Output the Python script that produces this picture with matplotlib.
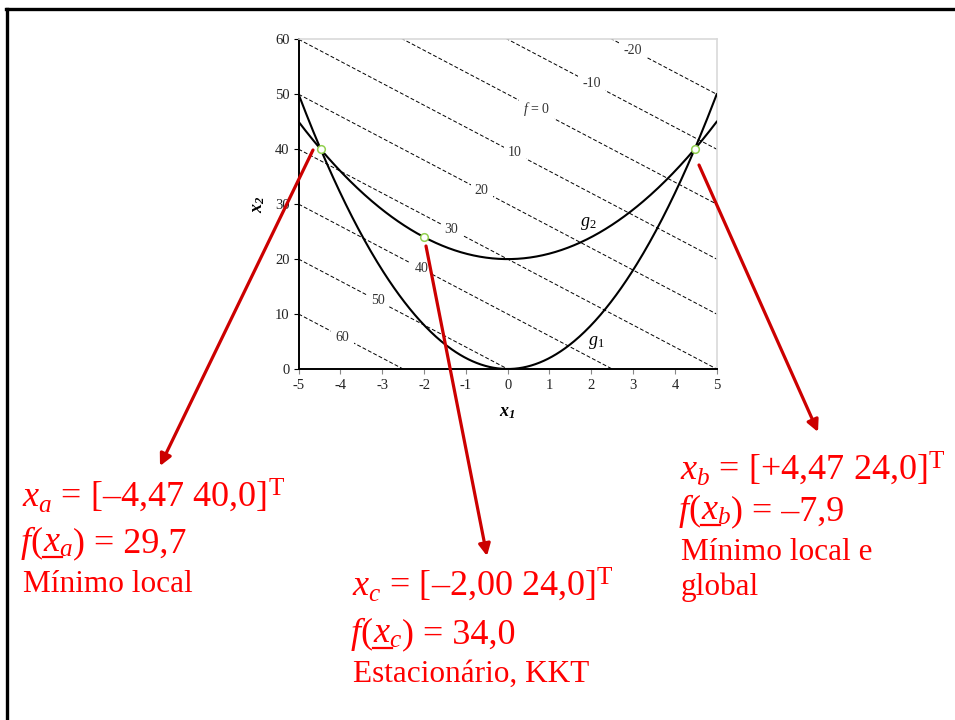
import numpy as np
import matplotlib

matplotlib.use("Agg")
import matplotlib.pyplot as plt
from matplotlib.lines import Line2D
from matplotlib.patches import FancyArrowPatch

plt.rcParams["font.family"] = ["Liberation Serif", "DejaVu Serif"]
plt.rcParams["mathtext.fontset"] = "custom"
plt.rcParams["mathtext.rm"] = "Liberation Serif"
plt.rcParams["mathtext.it"] = "Liberation Serif:italic"
plt.rcParams["mathtext.bf"] = "Liberation Serif:bold:italic"
plt.rcParams["axes.unicode_minus"] = False

# objective f(x) = 50 - 4*x1 - x2, constraints g1: x2 >= 2*x1^2, g2: x2 <= x1^2 + 20
f_levels = [60, 50, 40, 30, 20, 10, 0, -10, -20]
f_label_x1 = [-3.95, -3.11, -2.06, -1.34, -0.62, 0.17, 0.69, 2.01, 2.99]
f_label_text = ["60", "50", "40", "30", "20", "10", "$f$ = 0", "-10", "-20"]

pt_x1 = [-4.47, 4.47, -2.00]
pt_x2 = [40.0, 40.0, 24.0]

x_ticks = [-5, -4, -3, -2, -1, 0, 1, 2, 3, 4, 5]
y_ticks = [0, 10, 20, 30, 40, 50, 60]

W, H = 955, 720
fig = plt.figure(figsize=(W / 100, H / 100), dpi=100)
fig.patch.set_facecolor("white")
ax = fig.add_axes([298.6 / W, 1 - 369 / H, 418.1 / W, 329.7 / H])

x1 = np.linspace(-5, 5, 400)

# contour lines of f (straight lines)
for lev in f_levels:
    ax.plot(x1, 50 - lev - 4 * x1, color="black", lw=0.7,
            dashes=(4, 2.2), zorder=1)
for lx, txt, lev in zip(f_label_x1, f_label_text, f_levels):
    ax.text(lx, 50 - lev - 4 * lx, txt, ha="center", va="center",
            fontsize=10, color="#333333", zorder=2,
            bbox=dict(boxstyle="square,pad=0.3", fc="white", ec="none"))

# constraint curves
ax.plot(x1, 2 * x1 ** 2, color="black", lw=1.5, zorder=3)
ax.plot(x1, x1 ** 2 + 20, color="black", lw=1.5, zorder=3)
ax.text(2.13, 4.9, "$g_1$", fontsize=13, ha="center", va="center")
ax.text(1.92, 26.4, "$g_2$", fontsize=13, ha="center", va="center")

ax.plot(pt_x1, pt_x2, "o", ms=5.5, mfc="white", mec="#92D050",
        mew=1.1, zorder=5, clip_on=False)

ax.set_xlim(-5, 5)
ax.set_ylim(0, 60)
ax.set_xticks(x_ticks)
ax.set_yticks(y_ticks)
ax.tick_params(axis="x", colors="#888888", labelcolor="#222222",
               length=3.5, width=0.8, labelsize=10.5, pad=4)
ax.tick_params(axis="y", colors="black", labelcolor="#222222",
               length=3.5, width=0.8, labelsize=10.5, pad=3)
for side in ("left", "bottom"):
    ax.spines[side].set_linewidth(1.4)
    ax.spines[side].set_color("black")
for side in ("top", "right"):
    ax.spines[side].set_linewidth(1.2)
    ax.spines[side].set_color("#d9d9d9")
ax.set_xlabel(r"$\mathbf{x}_\mathbf{1}$", fontsize=13, labelpad=8)
ax.set_ylabel(r"$\mathbf{x}_\mathbf{2}$", fontsize=13, labelpad=6)

# outer frame
fig.add_artist(Line2D([6 / W, 1], [1 - 9 / H, 1 - 9 / H],
                      transform=fig.transFigure, color="black", lw=2.4))
fig.add_artist(Line2D([7 / W, 7 / W], [0, 1 - 9 / H],
                      transform=fig.transFigure, color="black", lw=2.4))


def fig_xy(px, py):
    return px / W, 1 - py / H


# arrows from the points to the annotation blocks
for (tx, ty), (hx, hy) in [((313, 150), (160, 466)),
                           ((426, 246), (487, 556)),
                           ((699, 165), (818, 432))]:
    fig.add_artist(FancyArrowPatch(fig_xy(tx, ty), fig_xy(hx, hy),
                                   transform=fig.transFigure,
                                   arrowstyle="-|>,head_length=7,head_width=3.5",
                                   color="#CC0000", lw=2.3,
                                   shrinkA=0, shrinkB=0))

red = "#FF0000"
big = 26
small = 22.5
renderer = fig.canvas.get_renderer()


def put(px, py, s, size):
    return fig.text(px / W, 1 - py / H, s, color=red, fontsize=size,
                    ha="left", va="baseline")


def put_fx(px, py, sub, rest, size):
    # f(x_sub) = value, with the x underlined (vector notation)
    t = put(px, py, "$f$(", size)
    x = t.get_window_extent(renderer).x1
    xs = fig.text(x / W, 1 - py / H, "$x$", color=red, fontsize=size,
                  ha="left", va="baseline")
    ext_x = xs.get_window_extent(renderer)
    xs.set_text("$x_%s$" % sub)
    x_end = xs.get_window_extent(renderer).x1
    fig.text(x_end / W, 1 - py / H, rest, color=red, fontsize=size,
             ha="left", va="baseline")
    uy = 1 - (py + 5) / H
    fig.add_artist(Line2D([ext_x.x0 / W, (ext_x.x1 + 1) / W], [uy, uy],
                          transform=fig.transFigure, color=red, lw=1.6))


put(22, 507, r"$x_a$ = [–4,47 40,0]$^\mathrm{T}$", big)
put_fx(20, 552, "a", ") = 29,7", big)
put(23, 592, "Mínimo local", small)

put(352, 596, r"$x_c$ = [–2,00 24,0]$^\mathrm{T}$", big)
put_fx(350, 643, "c", ") = 34,0", big)
put(353, 682, "Estacionário, KKT", small)

put(680, 480, r"$x_b$ = [+4,47 24,0]$^\mathrm{T}$", big)
put_fx(678, 520, "b", ") = –7,9", big)
put(681, 560, "Mínimo local e", small)
put(681, 595, "global", small)

fig.savefig("out.png", dpi=100, facecolor="white")
